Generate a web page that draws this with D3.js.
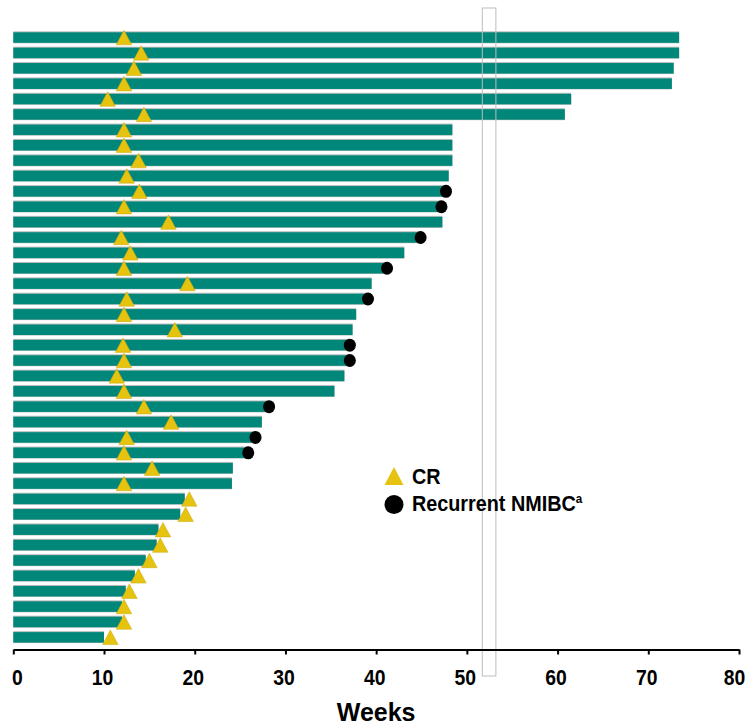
<!DOCTYPE html>
<html><head><meta charset="utf-8">
<script src="https://cdn.jsdelivr.net/npm/d3@7"></script>
<style>body{margin:0;background:#fff}</style>
</head><body>
<svg id="chart" width="749" height="727"></svg>
<script>
// ---- data (weeks) ----
const patients = ["P1","P2","P3","P4","P5","P6","P7","P8","P9","P10",
  "P11","P12","P13","P14","P15","P16","P17","P18","P19","P20",
  "P21","P22","P23","P24","P25","P26","P27","P28","P29","P30",
  "P31","P32","P33","P34","P35","P36","P37","P38","P39","P40"];
const duration = [73.4,73.4,72.8,72.6,61.5,60.8,48.4,48.4,48.4,48.0,
  47.6,47.1,47.3,44.9,43.1,41.2,39.5,39.1,37.8,37.4,
  37.0,37.0,36.5,35.4,28.2,27.4,26.6,25.9,24.2,24.1,
  18.9,18.4,16.0,15.8,14.6,13.4,12.4,12.0,12.0,10.0];
const crWeek = [12.2,14.1,13.3,12.2,10.4,14.4,12.2,12.2,13.8,12.5,
  13.9,12.2,17.1,11.9,12.9,12.2,19.2,12.5,12.2,17.8,
  12.1,12.2,11.4,12.2,14.4,17.4,12.5,12.2,15.3,12.2,
  19.4,19.0,16.5,16.2,15.0,13.8,12.8,12.2,12.2,10.7];
const recurrence = [null,null,null,null,null,null,null,null,null,null,
  47.7,47.2,null,44.9,null,41.2,null,39.1,null,null,
  37.1,37.1,null,null,28.2,null,26.7,25.9,null,null,
  null,null,null,null,null,null,null,null,null,null];
const xTicks = [0,10,20,30,40,50,60,70,80];
const yearBand = [51.7, 53.2];
const legendLabels = ["CR", "Recurrent NMIBC"];

// ---- layout ----
const svg = d3.select("#chart");
const x = d3.scaleLinear().domain([0, 80]).range([13.3, 739]);
const y = d3.scaleBand().domain(patients).range([32.3, 642.6]).paddingInner(0.317).paddingOuter(0);
const bh = y.bandwidth();
const TEAL = "#00877a", GOLD = "#e6c30f";

// bars (with faint gray top edge)
svg.append("g").selectAll("rect").data(patients).join("rect")
  .attr("x", x(0)).attr("y", d => y(d) - 1)
  .attr("width", (d, i) => x(duration[i]) - x(0)).attr("height", bh + 1.5)
  .attr("fill", "#b7bebc");
svg.append("g").selectAll("rect").data(patients).join("rect")
  .attr("x", x(0)).attr("y", d => y(d))
  .attr("width", (d, i) => x(duration[i]) - x(0)).attr("height", bh)
  .attr("fill", TEAL);

// 1-year band outline
svg.append("rect")
  .attr("x", x(yearBand[0])).attr("y", 8)
  .attr("width", x(yearBand[1]) - x(yearBand[0])).attr("height", 668)
  .attr("fill", "none").attr("stroke", "#bdbdbd").attr("stroke-width", 1);

// CR triangles
const tri = (cx, cy, w, h) => `M${cx},${cy - h/2}L${cx + w/2},${cy + h/2}L${cx - w/2},${cy + h/2}Z`;
svg.append("g").selectAll("path").data(patients).join("path")
  .attr("d", (d, i) => tri(x(crWeek[i]), y(d) + bh/2, 15.5, 14.5))
  .attr("fill", GOLD).attr("stroke", "#c9a80c").attr("stroke-width", 0.5);

// recurrence circles
svg.append("g").selectAll("ellipse")
  .data(patients.map((p, i) => ({p, v: recurrence[i]})).filter(d => d.v !== null))
  .join("ellipse")
  .attr("cx", d => x(d.v)).attr("cy", d => y(d.p) + bh/2)
  .attr("rx", 6).attr("ry", 6.5).attr("fill", "#000");

// x axis
const ax = svg.append("g").attr("transform", "translate(0,649.5)")
  .call(d3.axisBottom(x).tickValues(xTicks).tickSize(5).tickSizeOuter(0).tickPadding(4).tickFormat(d3.format("d")));
ax.select(".domain").attr("stroke", "#000").attr("stroke-width", 2);
ax.selectAll(".tick line").attr("stroke", "#000").attr("stroke-width", 2);
const lastTick = xTicks[xTicks.length - 1];
ax.selectAll(".tick text").attr("fill", "#000")
  .attr("font-family", "'Liberation Sans', Arial, sans-serif").attr("font-weight", "bold")
  .attr("font-size", 22).attr("y", 0).attr("dy", 0)
  .attr("transform", d => `translate(${d === 0 ? 3.5 : d === lastTick ? -5 : -2},35.5) scale(0.88,1)`);

svg.append("text").attr("x", x(40)).attr("y", 721).attr("text-anchor", "middle")
  .attr("font-family", "'Liberation Sans', Arial, sans-serif").attr("font-weight", "bold")
  .attr("font-size", 25).attr("fill", "#000").text("Weeks");

// legend
const lg = svg.append("g");
lg.append("path").attr("d", tri(394, 476, 19, 18)).attr("fill", GOLD);
lg.append("circle").attr("cx", 394).attr("cy", 504.5).attr("r", 9.5).attr("fill", "#000");
lg.append("text").attr("transform", "translate(412,484) scale(0.9,1)")
  .attr("font-family", "'Liberation Sans', Arial, sans-serif").attr("font-weight", "bold")
  .attr("font-size", 22).attr("fill", "#000").text(legendLabels[0]);
const t2 = lg.append("text").attr("transform", "translate(412,511) scale(0.9,1)")
  .attr("font-family", "'Liberation Sans', Arial, sans-serif").attr("font-weight", "bold")
  .attr("font-size", 22).attr("fill", "#000");
t2.append("tspan").text(legendLabels[1]);
t2.append("tspan").attr("font-size", 13).attr("dy", -8).text("a");
</script>
</body></html>
